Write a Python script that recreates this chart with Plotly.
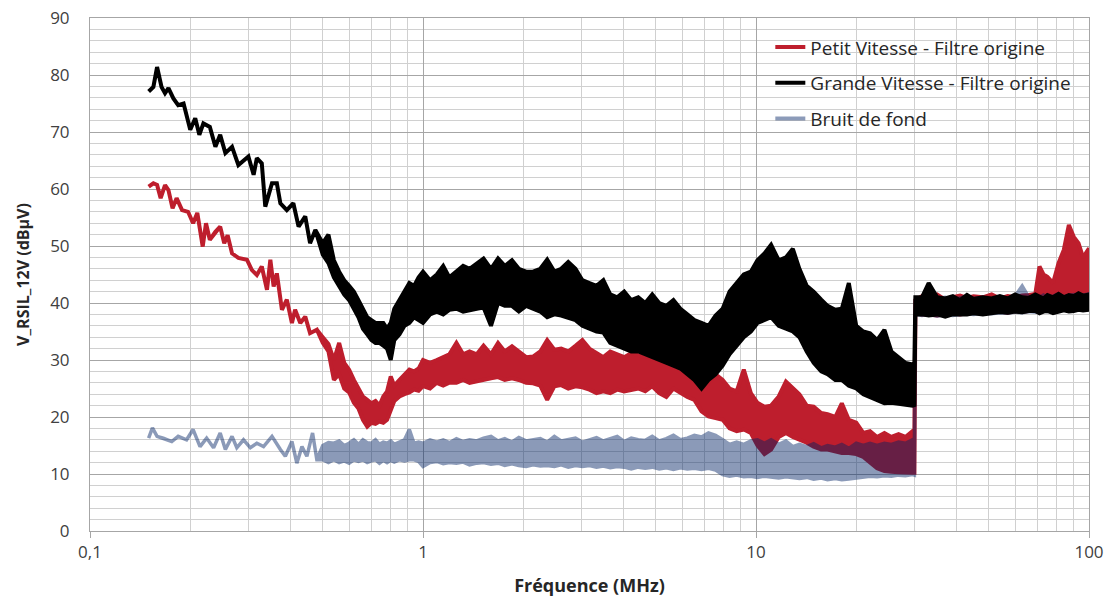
import plotly.graph_objects as go

# ---------------- data ----------------
# thin-line (low frequency) parts: frequency in MHz, level in dBµV
gv_line_freq = [0.150, 0.155, 0.159, 0.164, 0.168, 0.172, 0.178, 0.184, 0.191, 0.200,
                0.207, 0.213, 0.219, 0.229, 0.238, 0.246, 0.255, 0.267, 0.279, 0.299,
                0.310, 0.317, 0.328, 0.336, 0.352, 0.364, 0.373, 0.390, 0.408, 0.423,
                0.443, 0.458, 0.475]
gv_line_level = [77.1, 77.9, 81.4, 77.9, 76.8, 77.7, 75.9, 74.7, 75.0, 70.4,
                 72.4, 69.5, 71.5, 70.9, 67.4, 69.5, 66.3, 67.4, 64.2, 65.7,
                 62.5, 65.4, 64.5, 56.9, 61.0, 61.0, 57.5, 56.3, 57.5, 53.4,
                 55.2, 50.5, 52.8]

pv_line_freq = [0.150, 0.155, 0.159, 0.163, 0.168, 0.172, 0.177, 0.182, 0.189, 0.197,
                0.204, 0.210, 0.218, 0.223, 0.229, 0.238, 0.246, 0.253, 0.259, 0.267,
                0.279, 0.296, 0.306, 0.317, 0.328, 0.340, 0.348, 0.356, 0.364, 0.377,
                0.390, 0.404, 0.413, 0.428, 0.443, 0.458, 0.480]
pv_line_level = [60.4, 61.0, 60.7, 58.4, 60.7, 59.8, 56.6, 58.4, 56.3, 56.0,
                 54.0, 55.8, 49.9, 54.0, 51.1, 52.5, 53.4, 50.5, 51.9, 48.7,
                 47.9, 47.6, 45.8, 44.9, 46.4, 42.3, 47.6, 42.9, 45.2, 38.8,
                 40.6, 36.5, 38.8, 36.5, 37.6, 34.7, 35.3]

bf_line_freq = [0.150, 0.154, 0.159, 0.166, 0.176, 0.184, 0.195, 0.204, 0.214, 0.224,
                0.235, 0.246, 0.255, 0.267, 0.276, 0.289, 0.303, 0.317, 0.332, 0.352,
                0.373, 0.386, 0.404, 0.418, 0.433, 0.448, 0.466, 0.480]
bf_line_level = [16.3, 18.1, 16.6, 16.3, 15.7, 16.6, 16.0, 17.8, 14.8, 16.3,
                 14.6, 17.2, 14.3, 16.6, 14.6, 16.0, 14.6, 15.4, 14.8, 16.6,
                 14.3, 13.1, 15.7, 11.9, 14.8, 13.1, 17.2, 12.5]

# noisy band parts (0.5 - 100 MHz): upper and lower envelope of each trace
band_freq = [0.50, 0.52, 0.54, 0.56, 0.58, 0.60, 0.62, 0.64, 0.66, 0.68,
             0.70, 0.72, 0.74, 0.76, 0.78, 0.80, 0.82, 0.85, 0.88, 0.91,
             0.94, 0.97, 1.00, 1.05, 1.10, 1.15, 1.20, 1.26, 1.32, 1.38,
             1.45, 1.52, 1.60, 1.68, 1.76, 1.85, 1.94, 2.04, 2.14, 2.25,
             2.36, 2.48, 2.60, 2.73, 2.87, 3.01, 3.16, 3.32, 3.48, 3.65,
             3.83, 4.02, 4.22, 4.43, 4.65, 4.88, 5.12, 5.38, 5.65, 5.93,
             6.22, 6.53, 6.86, 7.20, 7.56, 7.94, 8.33, 8.75, 9.19, 9.65,
             10.1, 10.6, 11.1, 11.7, 12.3, 12.9, 13.5, 14.2, 14.9, 15.7,
             16.4, 17.3, 18.1, 19.0, 20.0, 21.0, 22.0, 23.1, 24.3, 25.5,
             26.8, 28.1, 29.5, 29.9, 30.1, 31.5, 33.0, 35.0, 37.0, 39.0,
             41.0, 43.0, 45.0, 48.0, 51.0, 54.0, 57.0, 60.0, 63.0, 66.0,
             69.0, 71.0, 73.0, 75.0, 78.0, 81.0, 84.0, 87.0, 90.0, 93.0,
             96.0, 100.0]

gv_upper = [50.5, 52.0, 47.5, 45.5, 44.0, 43.0, 42.0, 40.5, 39.0, 37.5,
            37.0, 36.5, 36.5, 36.5, 35.5, 36.5, 39.0, 40.5, 42.0, 43.5,
            43.0, 44.5, 45.5, 44.0, 45.0, 46.5, 44.5, 45.5, 46.5, 46.0,
            47.0, 47.8, 46.0, 47.8, 46.5, 47.5, 46.0, 45.5, 45.5, 46.0,
            47.6, 45.5, 46.0, 47.2, 46.0, 44.0, 43.5, 43.0, 44.0, 41.5,
            41.0, 42.0, 40.5, 41.0, 40.0, 41.5, 40.0, 39.5, 40.5, 39.0,
            38.0, 37.0, 36.5, 36.0, 37.8, 39.0, 42.0, 43.5, 45.0, 45.5,
            47.5, 48.7, 50.2, 47.5, 48.0, 49.5, 46.0, 43.0, 42.0, 40.6,
            39.5, 38.8, 39.0, 43.5, 36.0, 35.0, 34.7, 33.5, 35.3, 31.5,
            30.5, 29.5, 29.2, 29.5, 41.0, 41.0, 43.5, 41.0, 40.8, 41.2,
            40.5, 41.4, 40.7, 41.0, 40.8, 41.2, 40.8, 41.5, 41.0, 40.9,
            41.5, 41.2, 40.8, 41.4, 41.0, 41.6, 41.0, 41.4, 41.2, 41.7,
            41.3, 41.5]
gv_lower = [48.5, 47.0, 44.5, 43.0, 41.5, 40.5, 39.0, 37.5, 35.5, 34.5,
            33.5, 33.0, 33.0, 32.5, 32.0, 30.0, 33.5, 34.5, 36.0, 36.5,
            37.5, 37.0, 36.5, 38.0, 38.5, 38.0, 38.8, 39.0, 38.5, 38.8,
            39.0, 39.2, 36.0, 40.0, 39.5, 39.5, 38.5, 39.5, 39.0, 38.5,
            37.5, 38.0, 37.8, 37.5, 37.0, 36.0, 35.5, 35.0, 34.8, 33.0,
            32.5, 32.0, 31.5, 31.5, 31.0, 30.5, 30.0, 29.5, 29.0, 28.5,
            27.5, 26.5, 25.0, 26.5, 27.5, 29.0, 31.0, 32.5, 34.0, 35.0,
            36.5, 37.0, 37.5, 36.0, 35.5, 35.0, 34.0, 31.5, 29.5, 28.0,
            27.5, 26.5, 26.5, 25.5, 25.0, 24.0, 23.6, 23.0, 22.4, 22.5,
            22.4, 22.2, 22.0, 22.1, 38.0, 38.0, 37.8, 38.0, 37.6, 38.0,
            38.0, 38.0, 38.2, 38.0, 38.2, 38.4, 38.3, 38.5, 38.4, 38.6,
            38.6, 38.2, 38.5, 38.6, 38.2, 38.5, 38.7, 38.5, 38.6, 38.8,
            38.7, 38.8]

pv_upper = [34.0, 32.8, 30.0, 33.0, 29.5, 28.3, 26.5, 25.0, 23.6, 23.0,
            22.4, 22.8, 22.0, 23.6, 24.5, 27.1, 25.5, 26.5, 27.5, 28.3,
            28.0, 28.5, 30.0, 29.5, 30.0, 30.5, 31.0, 33.0, 31.0, 31.5,
            31.0, 32.5, 31.0, 33.0, 31.5, 32.4, 31.5, 30.5, 30.6, 31.5,
            33.5, 31.8, 32.0, 31.5, 32.5, 33.5, 32.0, 31.2, 30.5, 31.5,
            31.0, 30.5, 31.2, 30.8, 30.5, 31.0, 30.6, 30.0, 30.5, 30.0,
            28.5, 27.1, 26.5, 26.0, 27.5, 26.5, 25.0, 24.5, 28.3, 24.2,
            22.5, 21.8, 22.0, 23.6, 26.2, 25.0, 24.0, 22.0, 21.8, 20.7,
            20.5, 20.0, 22.4, 19.5, 19.0, 17.2, 17.5, 16.5, 17.2, 16.5,
            17.0, 16.5, 17.5, 17.0, 40.5, 41.2, 40.8, 41.5, 40.6, 41.0,
            41.3, 40.9, 41.2, 41.0, 41.5, 40.8, 41.2, 41.0, 41.3, 41.4,
            41.6, 46.4, 45.0, 44.6, 43.5, 47.0, 49.3, 53.7, 51.6, 50.5,
            48.0, 49.6]
pv_lower = [33.0, 31.5, 26.5, 27.5, 25.0, 24.3, 22.5, 21.5, 19.5, 18.3,
            19.0, 18.8, 19.2, 19.0, 19.5, 21.3, 22.8, 23.6, 24.0, 24.3,
            24.8, 24.6, 25.4, 25.0, 26.0, 25.5, 26.0, 26.0, 26.5, 26.0,
            26.2, 26.5, 26.8, 27.0, 26.5, 26.8, 26.5, 26.0, 25.9, 25.5,
            23.0, 25.4, 25.6, 25.0, 25.4, 25.2, 24.8, 24.2, 24.5, 24.2,
            24.8, 24.5, 24.8, 25.0, 24.5, 25.4, 24.2, 23.5, 25.0, 24.2,
            23.5, 23.0, 21.0, 20.1, 19.8, 19.5, 18.0, 17.5, 17.8, 17.2,
            15.0, 13.5, 14.3, 16.5, 17.2, 16.5, 16.0, 15.5, 14.8, 14.3,
            14.3, 14.0, 13.7, 13.7, 13.5, 13.0, 12.0, 11.0, 10.5, 10.4,
            10.3, 10.2, 10.2, 10.2, 38.2, 38.0, 38.0, 37.8, 38.0, 38.2,
            38.0, 38.2, 38.4, 38.2, 38.4, 38.5, 38.3, 38.6, 38.5, 38.6,
            38.7, 38.5, 38.6, 38.7, 38.8, 38.7, 38.8, 38.9, 38.8, 38.9,
            39.0, 39.0]

bf_upper = [15.0, 15.5, 15.4, 15.8, 15.0, 15.4, 16.0, 15.2, 16.0, 15.5,
            15.4, 16.0, 15.2, 15.6, 15.4, 15.8, 15.2, 15.6, 16.0, 17.8,
            15.4, 15.6, 15.4, 16.0, 15.6, 16.0, 15.5, 16.2, 15.7, 16.0,
            15.8, 16.3, 16.6, 15.8, 16.2, 15.6, 16.4, 15.8, 16.0, 16.2,
            15.6, 16.6, 15.8, 16.0, 16.3, 15.6, 16.0, 16.4, 15.8, 16.2,
            16.6, 15.7, 16.3, 16.0, 15.9, 16.6, 15.8, 16.2, 16.8, 16.0,
            16.3, 16.8, 16.5, 17.2, 16.8, 16.0, 15.2, 15.6, 15.2, 15.8,
            16.0, 15.4, 16.0, 15.2, 15.8, 14.8, 15.2, 14.8, 15.3, 14.6,
            15.0, 14.7, 15.2, 14.5, 15.4, 15.0, 15.4, 15.0, 15.4, 15.2,
            15.6, 15.4, 16.0, 15.5, 40.5, 41.0, 40.5, 40.8, 41.0, 40.6,
            40.9, 41.2, 40.8, 41.0, 40.6, 41.1, 40.8, 41.2, 43.0, 41.0,
            41.3, 41.0, 41.4, 40.9, 41.2, 41.6, 41.1, 41.3, 41.5, 41.2,
            41.4, 41.6]
bf_lower = [12.5, 12.0, 12.5, 12.0, 12.3, 11.9, 12.5, 12.2, 12.5, 12.0,
            12.3, 12.5, 11.9, 12.4, 12.0, 12.4, 12.1, 12.5, 12.3, 12.5,
            12.5, 12.2, 11.3, 12.0, 12.2, 11.8, 12.0, 11.9, 12.1, 11.6,
            11.9, 12.0, 11.7, 11.9, 11.5, 11.8, 11.5, 11.3, 11.6, 11.4,
            11.5, 11.3, 11.6, 11.2, 11.5, 11.3, 11.5, 11.2, 11.4, 11.1,
            11.3, 11.2, 10.9, 11.2, 11.0, 11.2, 10.9, 11.1, 10.8, 11.1,
            10.9, 11.0, 10.8, 11.0, 10.7, 9.9, 9.6, 9.8, 9.5, 9.6,
            9.4, 9.6, 9.5, 9.3, 9.5, 9.4, 9.2, 9.4, 9.1, 9.3,
            9.0, 9.2, 9.0, 9.1, 9.2, 9.4, 9.6, 9.5, 9.7, 9.6,
            9.8, 9.7, 9.9, 9.8, 38.0, 37.8, 38.0, 37.7, 38.0, 37.8,
            38.0, 38.1, 38.0, 38.2, 38.1, 38.3, 38.2, 38.4, 38.3, 38.5,
            38.4, 38.5, 38.6, 38.5, 38.7, 38.6, 38.8, 38.6, 38.7, 38.9,
            38.8, 39.0]

series_names = ["Petit Vitesse - Filtre origine",
                "Grande Vitesse - Filtre origine",
                "Bruit de fond"]
x_major_ticks = [0.1, 1, 10, 100]
x_major_labels = ["0,1", "1", "10", "100"]
x_minor_ticks = [0.2, 0.3, 0.4, 0.5, 0.6, 0.7, 0.8, 0.9,
                 2, 3, 4, 5, 6, 7, 8, 9,
                 20, 30, 40, 50, 60, 70, 80, 90]

for arr in (gv_upper, gv_lower, pv_upper, pv_lower, bf_upper, bf_lower):
    assert len(arr) == len(band_freq), len(arr)


def outline(line_f, line_v, up, lo):
    xs = list(line_f) + band_freq + band_freq[::-1] + list(line_f)[::-1]
    ys = list(line_v) + up + lo[::-1] + list(line_v)[::-1]
    return xs, ys


RED = "#BE1E2D"
BLACK = "#000000"
BLUE = "rgb(0,34,100)"

specs = {
    "pv": (series_names[0], pv_line_freq, pv_line_level, pv_upper, pv_lower, RED, 1.0, 4.0),
    "gv": (series_names[1], gv_line_freq, gv_line_level, gv_upper, gv_lower, BLACK, 1.0, 4.0),
    "bf": (series_names[2], bf_line_freq, bf_line_level, bf_upper, bf_lower, BLUE, 0.45, 3.5),
}

fig = go.Figure()
# drawing order: red, noise floor, black (black ends on top above 30 MHz)
for grp in ("pv", "bf", "gv"):
    name, lf, lv, up, lo, col, op, w = specs[grp]
    xs, ys = outline(lf, lv, up, lo)
    fig.add_trace(go.Scatter(x=xs, y=ys, mode="lines", fill="toself", fillcolor=col,
                             line=dict(color=col, width=w), opacity=op,
                             legendgroup=grp, showlegend=False, hoverinfo="skip"))
# legend entries in the original order
for grp in ("pv", "gv", "bf"):
    name, lf, lv, up, lo, col, op, w = specs[grp]
    fig.add_trace(go.Scatter(x=[None], y=[None], mode="lines", name=name,
                             line=dict(color=col, width=4), opacity=op,
                             legendgroup=grp, showlegend=True))

MAJOR = "#a6a6a6"
MINOR = "#d0d0d0"
fig.update_layout(
    width=1113, height=600,
    margin=dict(l=90, r=24, t=18, b=69, autoexpand=False),
    paper_bgcolor="white", plot_bgcolor="white",
    font=dict(family="Open Sans, sans-serif", size=17, color="#404040"),
    legend=dict(x=0.681, y=0.98, xanchor="left", yanchor="top", bgcolor="rgba(0,0,0,0)",
                borderwidth=0, font=dict(size=19, color="#262626"),
                traceorder="grouped", tracegroupgap=8),
    showlegend=True,
    shapes=[dict(type="rect", xref="paper", yref="paper", x0=0.663, x1=0.998,
                 y0=0.768, y1=0.98, fillcolor="white", line=dict(width=0),
                 layer="between")],
)
fig.update_xaxes(
    type="log", range=[-1, 2], automargin=False, ticklabeloverflow="allow",
    tickmode="array", tickvals=x_major_ticks, ticktext=x_major_labels,
    showgrid=True, gridcolor=MAJOR, gridwidth=1,
    minor=dict(tickmode="array", tickvals=x_minor_ticks, showgrid=True,
               gridcolor=MINOR, gridwidth=1, ticks=""),
    ticks="outside", ticklen=6, tickcolor=MAJOR,
    showline=True, linecolor=MAJOR, mirror=True, zeroline=False,
    tickfont=dict(size=17, color="#404040"),
    title=dict(text="<b>Fréquence (MHz)</b>", font=dict(size=18, color="#262626"), standoff=16),
)
fig.update_yaxes(
    range=[0, 90], tickmode="linear", tick0=0, dtick=10, automargin=False,
    ticklabeloverflow="allow",
    showgrid=True, gridcolor=MAJOR, gridwidth=1,
    minor=dict(dtick=2, showgrid=True, gridcolor=MINOR, gridwidth=1, ticks=""),
    ticks="outside", ticklen=16, tickcolor="rgba(0,0,0,0)",
    showline=True, linecolor=MAJOR, mirror=True, zeroline=False,
    tickfont=dict(size=17, color="#404040"),
    title=dict(text="<b>V_RSIL_12V (dBµV)</b>", font=dict(size=16, color="#262626"), standoff=16),
)

# remove the default 8 px page margin so the 1113x600 figure fills the window exactly
fig.write_html("out.html", config={"displayModeBar": False},
               post_script="document.body.style.margin='0';")
